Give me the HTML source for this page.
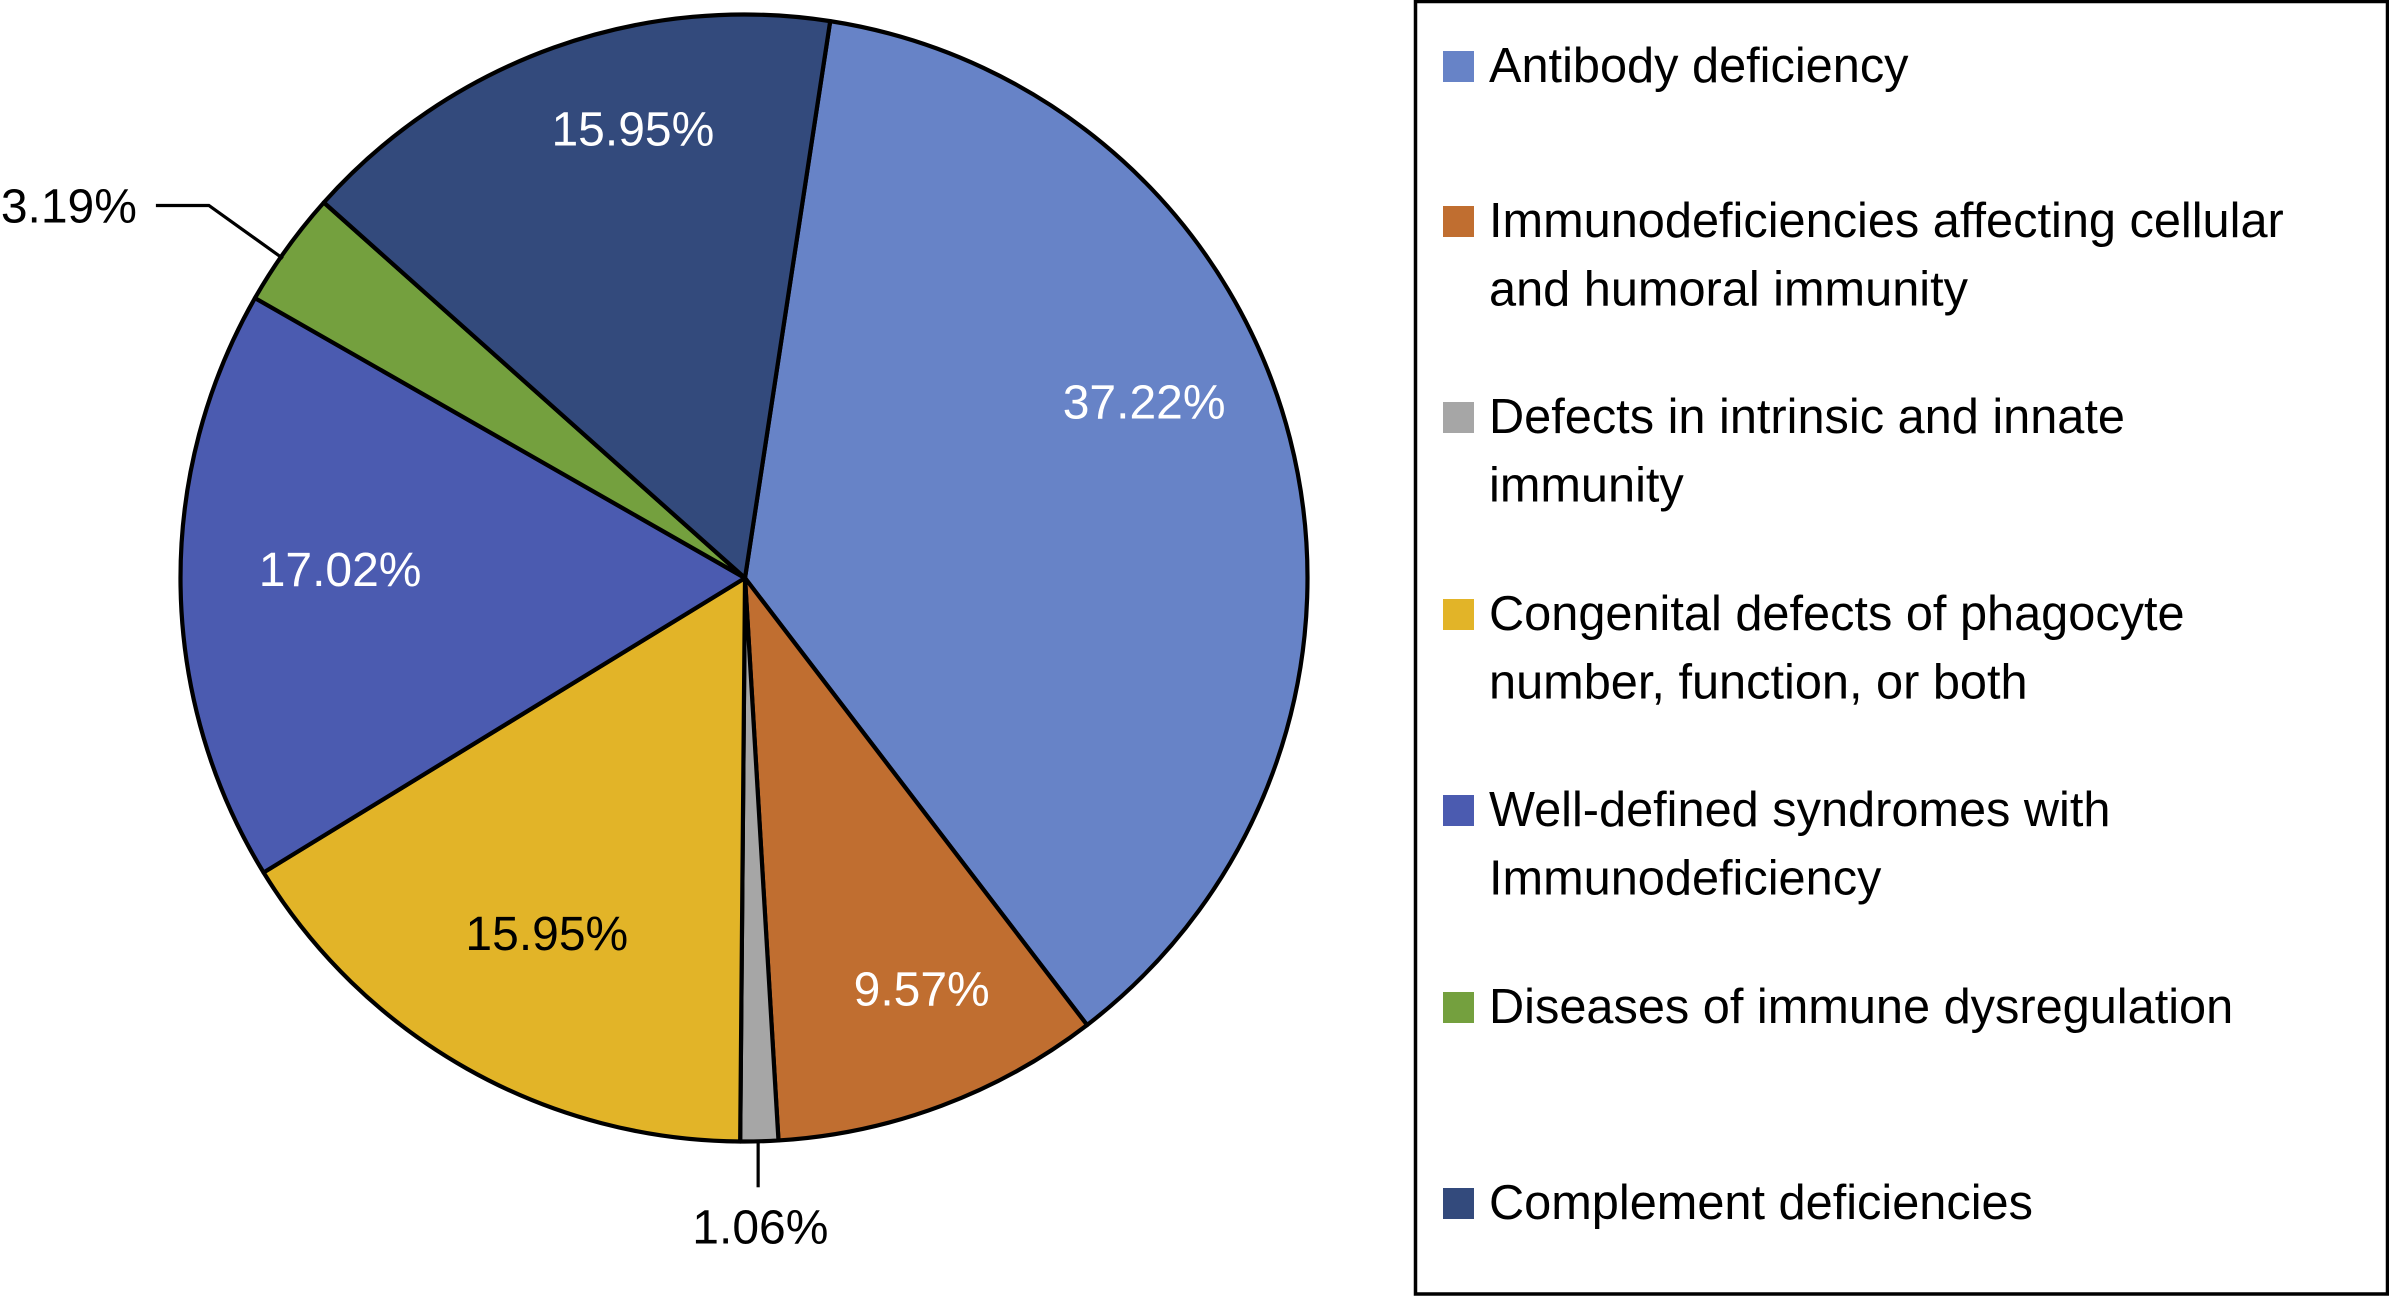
<!DOCTYPE html>
<html lang="en">
<head>
<meta charset="utf-8">
<title>Distribution of primary immunodeficiency categories</title>
<style>
  html, body { margin: 0; padding: 0; background: #fff; width: 2389px; height: 1296px; overflow: hidden; }
  svg { display: block; }
  text { font-family: "Liberation Sans", Arial, sans-serif; font-size: 48px; fill: #000; }
  .legend-text { font-size: 48.7px; }
</style>
</head>
<body>
<svg id="chart" xmlns="http://www.w3.org/2000/svg" width="2389" height="1296" viewBox="0 0 2389 1296">
  <rect x="0" y="0" width="2389" height="1296" fill="#ffffff"/>
  <g id="pie"></g>
  <g id="labels"></g>

  <g>
    <rect x="1415.5" y="1.5" width="972" height="1292.5" fill="none" stroke="#000" stroke-width="3.5"/>

    <g>
      <rect x="1443" y="51" width="31" height="31" fill="#6783C7"/>
      <text class="legend-text" x="1489" y="82">Antibody deficiency</text>
    </g>
    <g>
      <rect x="1443" y="206" width="31" height="31" fill="#C06E30"/>
      <text class="legend-text" x="1489" y="237">Immunodeficiencies affecting cellular<tspan x="1489" dy="68.5">and humoral immunity</tspan></text>
    </g>
    <g>
      <rect x="1443" y="402" width="31" height="31" fill="#A6A6A6"/>
      <text class="legend-text" x="1489" y="433">Defects in intrinsic and innate<tspan x="1489" dy="68.5">immunity</tspan></text>
    </g>
    <g>
      <rect x="1443" y="599" width="31" height="31" fill="#E2B428"/>
      <text class="legend-text" x="1489" y="630">Congenital defects of phagocyte<tspan x="1489" dy="68.5">number, function, or both</tspan></text>
    </g>
    <g>
      <rect x="1443" y="795" width="31" height="31" fill="#4B5BB0"/>
      <text class="legend-text" x="1489" y="826">Well-defined syndromes with<tspan x="1489" dy="68.5">Immunodeficiency</tspan></text>
    </g>
    <g>
      <rect x="1443" y="992" width="31" height="31" fill="#74A03E"/>
      <text class="legend-text" x="1489" y="1023">Diseases of immune dysregulation</text>
    </g>
    <g>
      <rect x="1443" y="1188" width="31" height="31" fill="#334A7C"/>
      <text class="legend-text" x="1489" y="1219">Complement deficiencies</text>
    </g>
  </g>
</svg>

<script>
const categories = [
  'antibody-deficiency',
  'cellular-humoral',
  'intrinsic-innate',
  'phagocyte',
  'well-defined-syndromes',
  'immune-dysregulation',
  'complement-deficiencies'
];
const values = [37.22, 9.57, 1.06, 15.95, 17.02, 3.19, 15.95];

const sliceColors = ['#6783C7', '#C06E30', '#A6A6A6', '#E2B428', '#4B5BB0', '#74A03E', '#334A7C'];
const labelColors = ['#ffffff', '#ffffff', '#000000', '#000000', '#ffffff', '#000000', '#ffffff'];

// The source figure's wedges deviate slightly from the printed percentages;
// these small corrections (degrees of sweep) reproduce that drawing.
const sweepCalibration = [-0.35, -0.47, 0.08, 0.66, 0, 0.51, -0.43];

const NS = 'http://www.w3.org/2000/svg';
const cx = 744, cy = 578, R = 563.5, startAngle = 8.8;
const apexX = 745, apexY = 578;
const pieGroup = document.getElementById('pie');
const labelGroup = document.getElementById('labels');
const total = values.reduce(function (a, b) { return a + b; }, 0);

function angleScale(v) { return v / total * 360; }
function polar(angle, radius) {
  const t = angle * Math.PI / 180;
  return { x: cx + radius * Math.sin(t), y: cy - radius * Math.cos(t) };
}
function makeLeader(points, name) {
  const leader = document.createElementNS(NS, 'polyline');
  leader.setAttribute('points', points.map(function (p) { return p.x + ',' + p.y; }).join(' '));
  leader.setAttribute('fill', 'none');
  leader.setAttribute('stroke', '#000');
  leader.setAttribute('stroke-width', '3.2');
  
  
  labelGroup.appendChild(leader);
}

// Hand placement of each printed label relative to its slice's mid-angle anchor.
function labelPosition(i, mid) {
  const inner = polar(mid, R * 0.7);
  const edge = polar(mid, R);
  if (i === 0) return { x: inner.x + 18, y: inner.y - 61.5 };
  if (i === 1) return { x: inner.x + 39.5, y: inner.y + 58 };
  if (i === 2) return { x: edge.x + 1, y: edge.y + 102 };
  if (i === 3) return { x: inner.x - 3.3, y: inner.y + 28.3 };
  if (i === 4) return { x: inner.x - 9.5, y: inner.y + 2.3 };
  if (i === 5) return { x: edge.x - 218, y: edge.y - 26 };
  return { x: inner.x + 21.9, y: inner.y - 61 };
}

let angle = startAngle;
values.forEach(function (v, i) {
  const sweep = angleScale(v) + sweepCalibration[i];
  const a0 = angle, a1 = angle + sweep, mid = angle + sweep / 2;
  const p0 = polar(a0, R), p1 = polar(a1, R);

  const slice = document.createElementNS(NS, 'path');
  slice.setAttribute('d', 'M' + apexX + ' ' + apexY + ' L' + p0.x + ' ' + p0.y +
    ' A' + R + ' ' + R + ' 0 ' + (sweep > 180 ? 1 : 0) + ' 1 ' + p1.x + ' ' + p1.y + ' Z');
  slice.setAttribute('fill', sliceColors[i]);
  slice.setAttribute('stroke', '#000');
  slice.setAttribute('stroke-width', '4.2');
  slice.setAttribute('stroke-linejoin', 'round');
  
  
  pieGroup.appendChild(slice);

  const edge = polar(mid, R);
  if (i === 2) {
    makeLeader([{ x: edge.x - 1.2, y: edge.y }, { x: edge.x - 1.2, y: edge.y + 46 }], 'leader-line-' + categories[i]);
  }
  if (i === 5) {
    makeLeader([{ x: edge.x - 4, y: edge.y + 10 }, { x: edge.x - 78, y: edge.y - 43 }, { x: edge.x - 131, y: edge.y - 43 }], 'leader-line-' + categories[i]);
  }

  const pos = labelPosition(i, mid);
  const label = document.createElementNS(NS, 'text');
  label.setAttribute('x', pos.x);
  label.setAttribute('y', pos.y);
  label.setAttribute('text-anchor', 'middle');
  label.style.fill = labelColors[i];
  label.textContent = v.toFixed(2) + '%';
  
  
  labelGroup.appendChild(label);

  angle = a1;
});
</script>
</body>
</html>
